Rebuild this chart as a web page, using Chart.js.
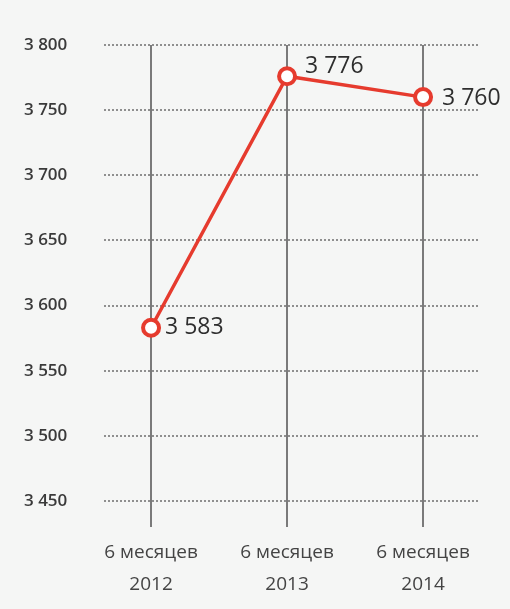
<!DOCTYPE html>
<html><head><meta charset="utf-8">
<script src="https://cdn.jsdelivr.net/npm/chart.js@4.4.1/dist/chart.umd.min.js"></script>
<style>html,body{margin:0;padding:0;background:#f5f6f5;overflow:hidden}canvas{display:block}</style>
</head><body>
<canvas id="c" width="510" height="609"></canvas>
<script>
const periodLabels = ["6 месяцев", "6 месяцев", "6 месяцев"];
const yearLabels = ["2012", "2013", "2014"];
const values = [3583, 3776, 3760];
const valueLabels = ["3 583", "3 776", "3 760"];
const yMin = 3450, yMax = 3800, yStep = 50;

const RED = '#e63b2e';
const points = values.map((v, i) => ({ x: i, y: v }));

const valueLabelPlugin = {
  id: 'valueLabels',
  afterDatasetsDraw(chart) {
    const ctx = chart.ctx;
    const meta = chart.getDatasetMeta(0);
    const offs = [[14, 0], [18, -10], [19, 1]];
    ctx.save();
    ctx.font = '500 23px "Open Sans", sans-serif';
    ctx.fillStyle = '#2e2e2e';
    ctx.textAlign = 'left';
    ctx.textBaseline = 'middle';
    meta.data.forEach((pt, i) => {
      ctx.fillText(valueLabels[i], pt.x + offs[i][0], pt.y + offs[i][1]);
    });
    ctx.restore();
  }
};

new Chart(document.getElementById('c'), {
  type: 'line',
  data: {
    datasets: [{
      data: points,
      borderColor: RED,
      borderWidth: 3.5,
      pointRadius: 8,
      pointHoverRadius: 8,
      pointBorderWidth: 4,
      pointBackgroundColor: '#ffffff',
      pointBorderColor: RED,
      tension: 0,
      clip: false
    }]
  },
  options: {
    responsive: false,
    animation: false,
    layout: { padding: { left: 24, right: 32, top: 45, bottom: 0 } },
    plugins: { legend: { display: false }, tooltip: { enabled: false } },
    scales: {
      x: {
        type: 'linear',
        min: -0.346,
        max: 2.404,
        afterBuildTicks(axis) { axis.ticks = yearLabels.map((_, i) => ({ value: i })); },
        afterFit(axis) { axis.height = 108; },
        border: { display: false },
        grid: { color: '#7a7a7a', lineWidth: 2, tickLength: 26, drawTicks: true, tickColor: '#7a7a7a' },
        ticks: {
          padding: 10,
          autoSkip: false,
          maxRotation: 0,
          color: '#444444',
          font: { family: '"Open Sans", sans-serif', size: 19, lineHeight: '32px' },
          callback: (v) => [periodLabels[v], yearLabels[v]]
        }
      },
      y: {
        min: yMin,
        max: yMax,
        afterFit(axis) { axis.width = 80; },
        border: { display: false, dash: [2, 2] },
        grid: { color: '#8f8f8f', lineWidth: 2, drawTicks: false },
        ticks: {
          stepSize: yStep,
          crossAlign: 'far',
          color: '#3a3a3a',
          font: { family: '"Open Sans", sans-serif', weight: '600', size: 17 },
          callback: (v) => String(v).replace(/\B(?=(\d{3})+(?!\d))/g, ' ')
        }
      }
    }
  },
  plugins: [valueLabelPlugin]
});
</script>
</body></html>
